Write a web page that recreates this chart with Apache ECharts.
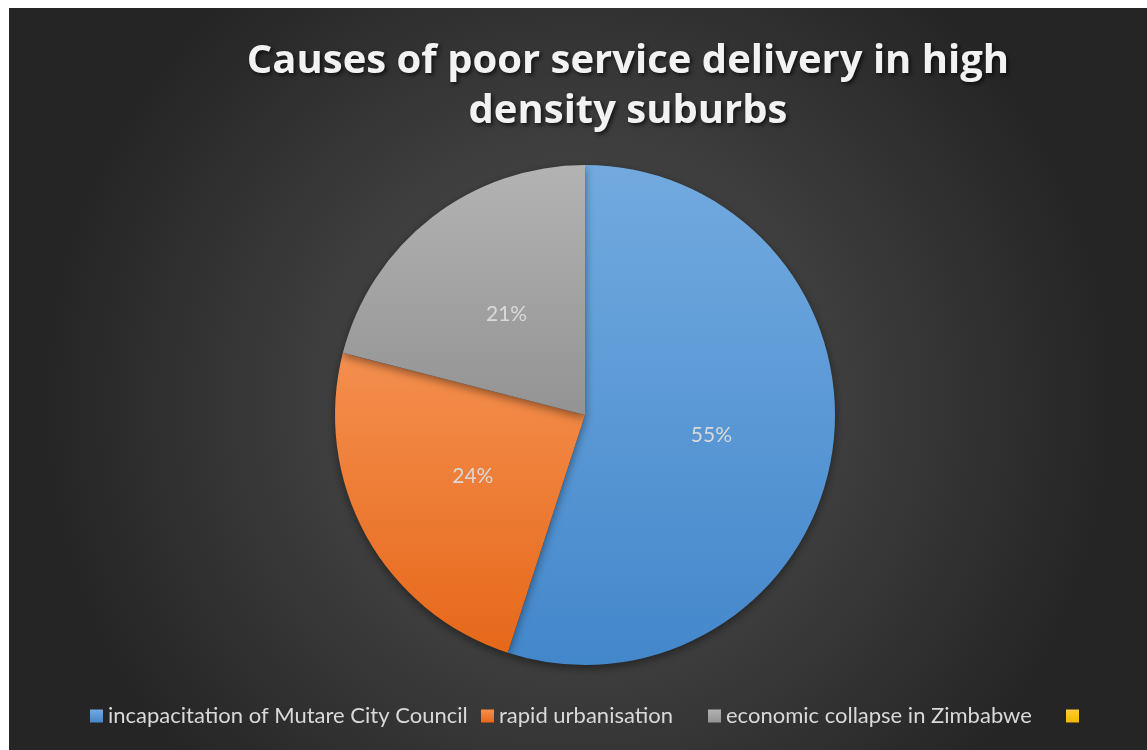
<!DOCTYPE html>
<html>
<head>
<meta charset="utf-8">
<script src="https://cdn.jsdelivr.net/npm/echarts@6/dist/echarts.min.js"></script>
<style>
html,body{margin:0;padding:0;background:#ffffff;}
#chart{position:absolute;left:9px;top:8px;width:1138px;height:742px;}
</style>
</head>
<body>
<div id="chart"></div>
<script>
const titleText = 'Causes of poor service delivery in high\ndensity suburbs';
const categories = ['incapacitation of Mutare City Council', 'rapid urbanisation', 'economic collapse in Zimbabwe', ' '];
const values = [55, 24, 21, 0];
const topColors = ['#72aadf', '#f48f4e', '#b3b3b3', '#ffcc33'];
const bottomColors = ['#4387cb', '#e6681a', '#939393', '#f2b800'];
const legendLefts = [81, 472, 699, 1057];

function grad(i){
  return {type:'linear', x:0, y:0, x2:0, y2:1, colorStops:[
    {offset:0, color: topColors[i]}, {offset:1, color: bottomColors[i]}]};
}

const chart = echarts.init(document.getElementById('chart'));
chart.setOption({
  backgroundColor: {type:'radial', x:0.5, y:0.53, r:0.72, colorStops:[
    {offset:0, color:'#555555'}, {offset:1, color:'#252525'}]},
  title: {
    text: titleText,
    left: 614, top: 24, textAlign: 'center',
    textStyle: {
      color:'#f2f2f2', fontFamily:'Open Sans', fontWeight:'bold', fontSize:40,
      lineHeight:50,
      textShadowColor:'rgba(0,0,0,0.7)', textShadowBlur:4, textShadowOffsetX:2, textShadowOffsetY:2
    }
  },
  legend: categories.map((c,i)=>({
    left: legendLefts[i], top: 697, padding: 0,
    itemWidth: 13, itemHeight: 13, itemGap: 5,
    icon: 'rect',
    data: [c],
    textStyle: {color:'#d9d9d9', fontFamily:'Lato', fontSize:22},
    selectedMode: false
  })),
  series: [{
    type: 'pie',
    center: [576, 407],
    radius: [0, 250],
    startAngle: 90,
    clockwise: true,
    avoidLabelOverlap: false,
    silent: true,
    label: {
      show: true, position: 'inside', color:'#d9d9d9', fontFamily:'Lato', fontSize:21,
      formatter: p => Math.round(p.percent) + '%'
    },
    labelLine: {show:false},
    itemStyle: {shadowColor:'rgba(0,0,0,0.45)', shadowBlur:10, shadowOffsetY:3},
    data: categories.map((c,i)=>({
      name: c, value: values[i],
      itemStyle: {color: grad(i)},
      label: {show: values[i] > 0}
    }))
  }]
});
</script>
</body>
</html>
